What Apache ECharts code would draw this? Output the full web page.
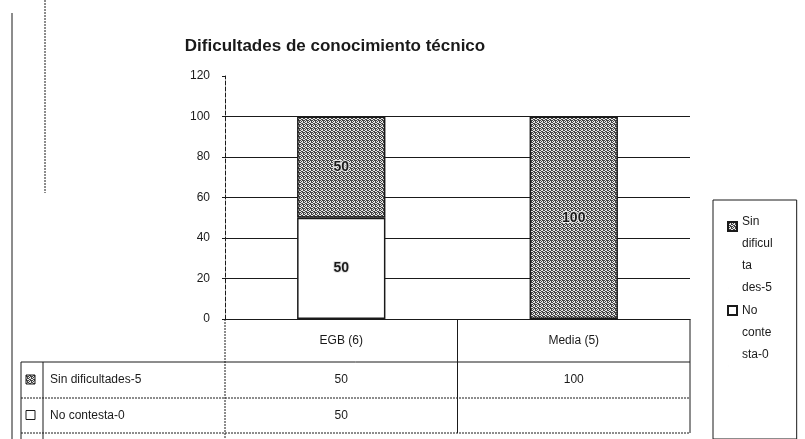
<!DOCTYPE html>
<html>
<head>
<meta charset="utf-8">
<script src="https://cdn.jsdelivr.net/npm/echarts@6/dist/echarts.min.js"></script>
<style>
  html, body { margin: 0; padding: 0; background: #fff; }
  #chart { width: 805px; height: 439px; }
</style>
</head>
<body>
<div id="chart"></div>
<script>
// data
const title = 'Dificultades de conocimiento técnico'
const categories = ['EGB (6)', 'Media (5)']
const seriesNames = ['Sin dificultades-5', 'No contesta-0']
// the narrow legend box wraps the names like this
const legendLabels = ['Sin\ndificul\nta\ndes-5', 'No\nconte\nsta-0']
const sinDificultades = [50, 100]
const noContesta = [50, null]
const yMin = 0
const yMax = 120
const yStep = 20

const FONT = '"Liberation Sans", Arial, sans-serif'
const INK = '#1a1a1a'

// speckled grey fill, like the scanned pattern
const makePattern = () => {
  const c = document.createElement('canvas')
  c.width = 4
  c.height = 4
  const ctx = c.getContext('2d')
  const bits = [1, 0, 1, 1, 0, 1, 0, 1, 1, 0, 0, 1, 0, 1, 1, 0]
  bits.forEach((b, i) => {
    ctx.fillStyle = b ? '#444' : '#e6e6e6'
    ctx.fillRect(i % 4, Math.floor(i / 4), 1, 1)
  })
  return c
}
const pattern = { image: makePattern(), repeat: 'repeat' }

// legend keys sit next to the first text line, not the middle of the block
const keyIcon = top => 'path://M0,0L0.01,0M0,' + top + 'L9,' + top + 'L9,' + (top + 9) + 'L0,' + (top + 9) + 'ZM0,66L0.01,66'

const chart = echarts.init(document.getElementById('chart'))

const valueLabel = {
  show: true,
  position: 'inside',
  color: INK,
  fontFamily: FONT,
  fontSize: 14,
  fontWeight: 'bold',
  textBorderColor: '#e6e6e6',
  textBorderWidth: 2,
  formatter: p => (p.value ? p.value : '')
}

chart.setOption({
  animation: false,
  backgroundColor: '#fff',
  title: {
    text: title,
    left: 330,
    textAlign: 'center',
    top: 33,
    textStyle: { fontFamily: FONT, fontSize: 17, fontWeight: 'bold', color: INK }
  },
  grid: { left: 225, right: 115, top: 76, bottom: 120 },
  legend: {
    orient: 'vertical',
    left: 713,
    top: 200,
    padding: [11, 24, 72, 14],
    borderColor: INK,
    borderWidth: 1,
    itemWidth: 9,
    itemHeight: 66,
    itemGap: 0,
    data: [
      { name: seriesNames[0], icon: keyIcon(0) },
      { name: seriesNames[1], icon: keyIcon(6) }
    ],
    formatter: name => legendLabels[seriesNames.indexOf(name)],
    textStyle: { fontFamily: FONT, fontSize: 12, color: INK, lineHeight: 22 }
  },
  xAxis: {
    type: 'category',
    data: categories,
    axisLine: { lineStyle: { color: INK, width: 1 } },
    axisTick: { show: false },
    axisLabel: { margin: 16, color: INK, fontFamily: FONT, fontSize: 12 }
  },
  yAxis: {
    type: 'value',
    min: yMin,
    max: yMax,
    interval: yStep,
    axisLine: { show: true, lineStyle: { color: INK, type: 'dashed', width: 1 } },
    axisTick: { show: true, length: 3, lineStyle: { color: INK } },
    axisLabel: { margin: 15, color: INK, fontFamily: FONT, fontSize: 12 },
    splitLine: {
      show: true,
      lineStyle: { color: [INK, INK, INK, INK, INK, INK, 'transparent'], width: 1 }
    }
  },
  series: [
    {
      name: seriesNames[1],
      type: 'bar',
      stack: 'total',
      barWidth: '38%',
      data: noContesta,
      itemStyle: { color: '#fff', borderColor: INK, borderWidth: 1.5 },
      label: valueLabel
    },
    {
      name: seriesNames[0],
      type: 'bar',
      stack: 'total',
      barWidth: '38%',
      data: sinDificultades,
      itemStyle: { color: pattern, borderColor: INK, borderWidth: 1.5 },
      label: valueLabel
    }
  ]
})

// data table under the plot, placed from the axis scale
const drawTable = () => {
  const p0 = chart.convertToPixel({ gridIndex: 0 }, [categories[0], 0])
  const p1 = chart.convertToPixel({ gridIndex: 0 }, [categories[1], 0])
  const half = (p1[0] - p0[0]) / 2
  const axisY = p0[1]
  const leftX = p0[0] - half
  const midX = p0[0] + half
  const rightX = p1[0] + half
  const tableLeft = 21
  const keyX = 43
  const rows = [362, 398, 433]
  const bottom = 439
  const line = (x1, y1, x2, y2, dash) => ({
    type: 'line',
    shape: { x1, y1, x2, y2 },
    style: { stroke: INK, lineWidth: 1, lineDash: dash ? [2, 1] : null }
  })
  const text = (x, y, t, align) => ({
    type: 'text',
    x, y,
    style: { text: t, fill: INK, font: '12px ' + FONT, textAlign: align || 'center', textVerticalAlign: 'middle' }
  })
  const els = [
    line(tableLeft, rows[0], rightX, rows[0]),
    line(tableLeft, rows[1], rightX, rows[1], true),
    line(tableLeft, rows[2], rightX, rows[2], true),
    line(tableLeft, rows[0], tableLeft, bottom),
    line(keyX, rows[0], keyX, bottom),
    line(leftX, axisY, leftX, bottom, true),
    line(midX, axisY, midX, rows[2]),
    line(rightX, axisY, rightX, rows[2]),
    // scan edges on the left
    line(12, 13, 12, bottom),
    line(45, 0, 45, 193, true)
  ]
  const tableRows = [
    { name: seriesNames[0], values: sinDificultades, fill: pattern },
    { name: seriesNames[1], values: noContesta, fill: '#fff' }
  ]
  tableRows.forEach((r, i) => {
    const cy = (rows[i] + rows[i + 1]) / 2
    els.push({
      type: 'rect',
      shape: { x: 26, y: cy - 5, width: 9, height: 9 },
      style: { fill: r.fill, stroke: INK, lineWidth: 1 }
    })
    els.push(text(50, cy, r.name, 'left'))
    r.values.forEach((v, j) => {
      if (v != null) {
        els.push(text(j === 0 ? p0[0] : p1[0], cy, String(v)))
      }
    })
  })
  chart.setOption({ graphic: { elements: els } })
}
drawTable()
</script>
</body>
</html>
